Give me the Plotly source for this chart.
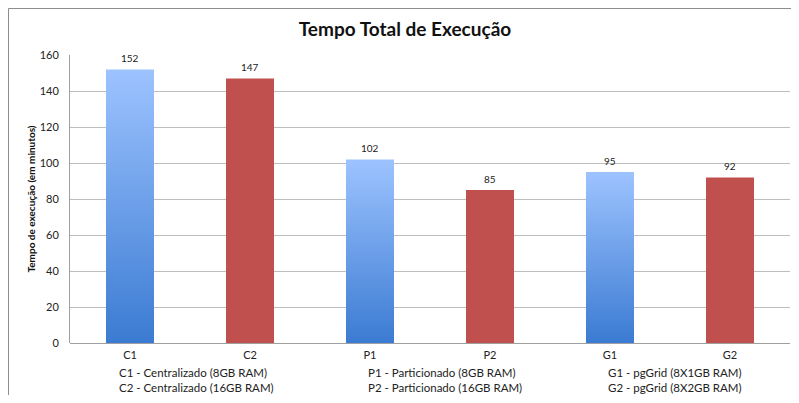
import plotly.graph_objects as go

categories = ["C1", "C2", "P1", "P2", "G1", "G2"]
minutes = [152, 147, 102, 85, 95, 92]
legend_cols = [
    ["C1 - Centralizado (8GB RAM)", "C2 - Centralizado (16GB RAM)"],
    ["P1 - Particionado (8GB RAM)", "P2 - Particionado (16GB RAM)"],
    ["G1 - pgGrid (8X1GB RAM)", "G2 - pgGrid (8X2GB RAM)"],
]

FONT = "Lato, 'Open Sans', sans-serif"
BLUE_DARK = "#3B7BD2"
BLUE_LIGHT = "#9DC3FF"
RED = "#C0504D"
W = 0.4  # bar width in category units

fig = go.Figure()

pos = list(range(len(categories)))

# blue bars (even positions) drawn as filled shapes so they can carry a vertical gradient
for i in pos[0::2]:
    v = minutes[i]
    fig.add_trace(go.Scatter(
        x=[i - W / 2, i + W / 2, i + W / 2, i - W / 2, i - W / 2],
        y=[0, 0, v, v, 0],
        mode="lines", fill="toself",
        line=dict(width=0, color=BLUE_LIGHT),
        fillgradient=dict(type="vertical",
                          colorscale=[[0, BLUE_DARK], [1, BLUE_LIGHT]]),
        showlegend=False, hoverinfo="skip",
    ))

# red bars (odd positions)
fig.add_trace(go.Bar(
    x=pos[1::2], y=minutes[1::2], width=W,
    marker=dict(color=RED, line=dict(width=0)),
    showlegend=False,
))

annotations = []
# value labels above each bar
for i, v in zip(pos, minutes):
    annotations.append(dict(
        x=i, y=v, text=str(v), showarrow=False,
        xanchor="center", yanchor="bottom", yshift=3,
        font=dict(family=FONT, size=10, color="#222"),
    ))

# description text under the axis
for x0, lines in zip([0.0653, 0.411, 0.744], legend_cols):
    annotations.append(dict(
        xref="paper", yref="paper", x=x0, y=-0.127,
        xanchor="left", yanchor="middle", align="left", showarrow=False,
        text="<br>".join(lines), font=dict(family=FONT, size=11.5, color="#222"),
    ))

fig.update_layout(
    width=783, height=387,
    margin=dict(l=62, r=1, t=47, b=52),
    paper_bgcolor="white", plot_bgcolor="white",
    title=dict(text="<b>Tempo Total de Execução</b>", x=0.507, xanchor="center",
               y=0.945, yanchor="middle",
               font=dict(family=FONT, size=19, color="#111")),
    annotations=annotations,
    shapes=[dict(type="rect", xref="paper", yref="paper",
                 x0=-0.0854, x1=1.05, y0=-0.3, y1=1.1615,
                 line=dict(color="#8C8C8C", width=1), layer="below")],
    font=dict(family=FONT),
)

fig.update_xaxes(
    range=[-0.5, 5.5], tickvals=pos, ticktext=categories,
    showgrid=False, zeroline=False, showline=False, ticks="",
    tickfont=dict(family=FONT, size=11, color="#222"), ticklabelstandoff=4,
)
fig.update_yaxes(
    range=[0, 160], dtick=20, showgrid=True, gridcolor="#BEBEBE", gridwidth=1,
    showline=True, linecolor="#A0A0A0", linewidth=1,
    zeroline=True, zerolinecolor="#A0A0A0", zerolinewidth=1,
    tickfont=dict(family=FONT, size=11, color="#222"), ticklabelstandoff=8,
    title=dict(text="<b>Tempo de execução (em minutos)</b>", standoff=2,
               font=dict(family=FONT, size=10, color="#111")),
)

fig.write_html("out.html")
